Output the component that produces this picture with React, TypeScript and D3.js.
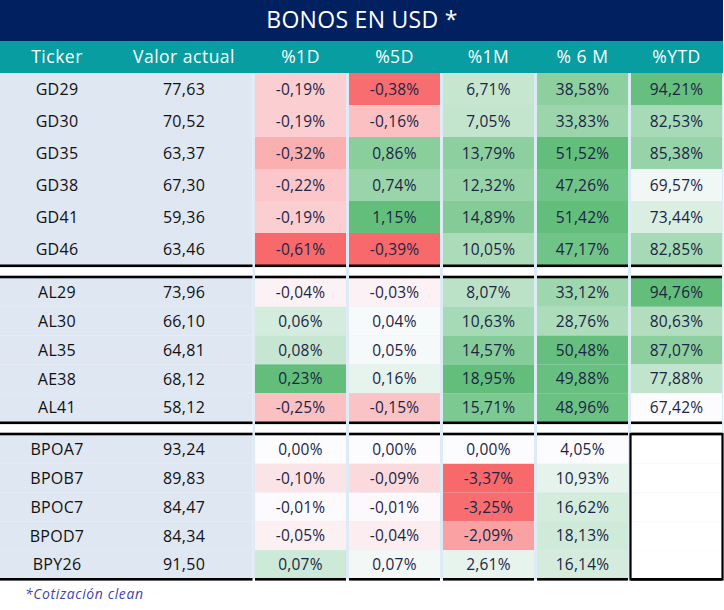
import React from "react";
import * as d3 from "d3";

const title = "BONOS EN USD *";
const headers = ["Ticker", "Valor actual", "%1D", "%5D", "%1M", "% 6 M", "%YTD"];
const footnote = "*Cotización clean";

const sectionSizes = [6, 5, 5];
const tickers = ["GD29", "GD30", "GD35", "GD38", "GD41", "GD46", "AL29", "AL30", "AL35", "AE38", "AL41", "BPOA7", "BPOB7", "BPOC7", "BPOD7", "BPY26"];
const valor = [77.63, 70.52, 63.37, 67.3, 59.36, 63.46, 73.96, 66.1, 64.81, 68.12, 58.12, 93.24, 89.83, 84.47, 84.34, 91.5];
const pct1D = [-0.19, -0.19, -0.32, -0.22, -0.19, -0.61, -0.04, 0.06, 0.08, 0.23, -0.25, 0.0, -0.1, -0.01, -0.05, 0.07];
const pct5D = [-0.38, -0.16, 0.86, 0.74, 1.15, -0.39, -0.03, 0.04, 0.05, 0.16, -0.15, 0.0, -0.09, -0.01, -0.04, 0.07];
const pct1M = [6.71, 7.05, 13.79, 12.32, 14.89, 10.05, 8.07, 10.63, 14.57, 18.95, 15.71, 0.0, -3.37, -3.25, -2.09, 2.61];
const pct6M = [38.58, 33.83, 51.52, 47.26, 51.42, 47.17, 33.12, 28.76, 50.48, 49.88, 48.96, 4.05, 10.93, 16.62, 18.13, 16.14];
const pctYTD: (number | null)[] = [94.21, 82.53, 85.38, 69.57, 73.44, 82.85, 94.76, 80.63, 87.07, 77.88, 67.42, null, null, null, null, null];

const valueCols = [pct1D, pct5D, pct1M, pct6M, pctYTD];

const W = 724;
const H = 610;
const FONT = "'Open Sans', 'Noto Sans', sans-serif";
const NAVY = "#00205F";
const TEAL = "#079DA1";
const SEP = "#DDEBF7";
const TICKBG = "#DFE7F2";
const RED = "#F8696B";
const MID = "#FCFCFF";
const GREEN = "#63BE7B";

const fmt2 = (v: number) => d3.format(".2f")(v).replace(".", ",").replace("\u2212", "-");

const sectionTops = [73, 278, 435];
const sectionRowH = [32, 28.8, 28.8];

export default function App() {
  const xCols = d3
    .scaleBand<number>()
    .domain(d3.range(5))
    .range([253.5, 723.5])
    .paddingInner(3 / 94)
    .paddingOuter(1.5 / 94);

  const colorScales = valueCols.map((arr) => {
    const vals = arr.filter((v) => v != null) as number[];
    const mn = d3.min(vals)!;
    const mx = d3.max(vals)!;
    if (mn < 0) {
      return d3.scaleLinear<string>().domain([mn, 0, mx]).range([RED, MID, GREEN]);
    }
    return d3.scaleLinear<string>().domain([mn, mx]).range([MID, GREEN]);
  });

  const rows: { i: number; y: number; h: number; sec: number }[] = [];
  let idx = 0;
  sectionSizes.forEach((n, s) => {
    const band = d3
      .scaleBand<number>()
      .domain(d3.range(n))
      .range([sectionTops[s], sectionTops[s] + n * sectionRowH[s]]);
    for (let k = 0; k < n; k++) {
      rows.push({ i: idx, y: band(k)!, h: band.bandwidth(), sec: s });
      idx++;
    }
  });

  const sectionBottoms = sectionSizes.map((n, s) => sectionTops[s] + n * sectionRowH[s]);

  const blockXs: [number, number][] = [[0, 252.5]];
  d3.range(5).forEach((c) => blockXs.push([xCols(c)!, xCols(c)! + xCols.bandwidth()]));

  const headerX = [57, 184, ...d3.range(5).map((c) => xCols(c)! + xCols.bandwidth() / 2)];

  return (
    <svg width={W} height={H} style={{ position: "absolute", left: 0, top: 0, background: "#fff" }} fontFamily={FONT}>
      <rect x={0} y={0} width={W} height={H} fill="#fff" />
      <rect x={0} y={0} width={723} height={41} fill={NAVY} />
      <text x={362} y={27.5} fill="#fff" fontSize={23} textAnchor="middle" letterSpacing={0.3}>
        {title}
      </text>
      <rect x={0} y={41} width={723} height={32} fill={TEAL} />
      {headers.map((h, k) => (
        <text key={h} x={headerX[k]} y={63} fill="#fff" fontSize={17.5} textAnchor="middle" letterSpacing={0.5}>
          {h}
        </text>
      ))}
      <rect x={252.5} y={73} width={471} height={sectionBottoms[2] - 73} fill={SEP} />
      {[0, 1].map((s) => (
        <g key={"gap" + s}>
          <rect x={0} y={sectionBottoms[s]} width={252.5} height={sectionTops[s + 1] - sectionBottoms[s]} fill="#fff" />
          {d3.range(5).map((c) => (
            <rect key={c} x={xCols(c)!} y={sectionBottoms[s]} width={xCols.bandwidth()} height={sectionTops[s + 1] - sectionBottoms[s]} fill="#fff" />
          ))}
        </g>
      ))}
      {rows.map((r) => (
        <g key={r.i}>
          <rect x={0} y={r.y} width={252.5} height={r.h} fill={TICKBG} />
          <text x={57} y={r.y + r.h / 2 + 5.7} fontSize={16} textAnchor="middle" fill="#111" letterSpacing={0.3}>
            {tickers[r.i]}
          </text>
          <text x={184} y={r.y + r.h / 2 + 5.7} fontSize={16} textAnchor="middle" fill="#111" letterSpacing={0.3}>
            {fmt2(valor[r.i])}
          </text>
          {valueCols.map((arr, c) => {
            const v = arr[r.i];
            return (
              <g key={c}>
                <rect x={xCols(c)!} y={r.y} width={xCols.bandwidth()} height={r.h} fill={v == null ? "#fff" : colorScales[c](v)} />
                {v != null && (
                  <text x={xCols(c)! + xCols.bandwidth() / 2} y={r.y + r.h / 2 + 5.5} fontSize={15.5} textAnchor="middle" fill="#1B2545" letterSpacing={0.2}>
                    {fmt2(v) + "%"}
                  </text>
                )}
              </g>
            );
          })}
        </g>
      ))}
      {[0, 1].map((s) =>
        blockXs.map(([a, b], k) => (
          <g key={"bl" + s + "-" + k}>
            <rect x={a} y={sectionBottoms[s] - 0.5} width={b - a} height={2.6} fill="#000" />
            <rect x={a} y={sectionTops[s + 1] - 2.3} width={b - a} height={2.6} fill="#000" />
          </g>
        ))
      )}
      {blockXs.map(([a, b], k) => (
        <rect key={"bb" + k} x={a} y={sectionBottoms[2] - 1} width={b - a} height={2.6} fill="#000" />
      ))}
      <rect
        x={xCols(4)! - 0.5}
        y={sectionTops[2] - 1}
        width={xCols.bandwidth() + 1}
        height={sectionBottoms[2] - sectionTops[2] + 1.5}
        fill="none"
        stroke="#000"
        strokeWidth={2.2}
      />
      <text x={25} y={599} fontSize={14} fontStyle="italic" fill="#4545A5" letterSpacing={0.6}>
        {footnote}
      </text>
    </svg>
  );
}
